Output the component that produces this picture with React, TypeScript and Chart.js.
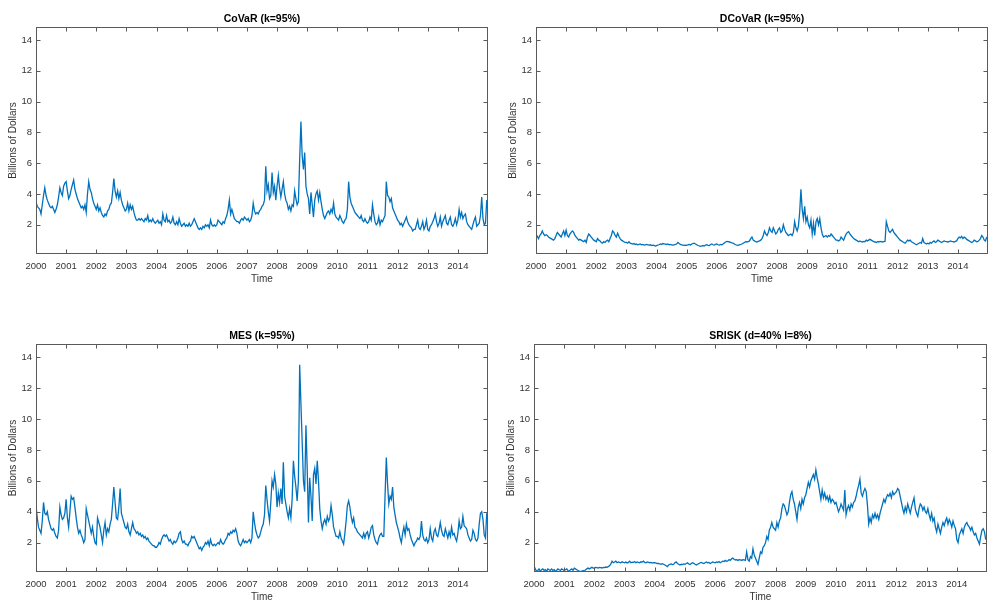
import React, { useEffect, useRef } from "react";
import { Chart, registerables } from "chart.js";

Chart.register(...registerables);

// ---------- data (semi-monthly readings, 24 per year, 2000–2014) ----------
const START_YEAR = 2000;
const POINTS_PER_YEAR = 24;

const xTickYears = [2000, 2001, 2002, 2003, 2004, 2005, 2006, 2007, 2008, 2009, 2010, 2011, 2012, 2013, 2014];
const yTickValues = [2, 4, 6, 8, 10, 12, 14];
const Y_MIN = 0.1;
const Y_MAX = 14.85;
const X_MIN = 2000;
const X_MAX = 2015;

const titles = ["CoVaR (k=95%)", "DCoVaR (k=95%)", "MES (k=95%)", "SRISK (d=40% l=8%)"];

const covar = [
  3.5, 3.2, 3.1, 3.0, 2.7, 3.3, 3.9, 4.4, 3.9, 3.6, 3.4, 3.2, 3.1, 3.2, 3.0, 2.8, 3.0, 3.3, 3.8, 4.4, 4.1, 3.9, 4.5, 4.7,
  4.8, 4.2, 3.7, 3.9, 4.3, 4.6, 4.9, 4.3, 4.0, 3.7, 3.5, 3.3, 3.1, 3.2, 3.0, 3.3, 2.8, 4.0, 4.8, 4.3, 4.1, 3.7, 3.4, 3.2,
  3.0, 3.3, 2.9, 3.1, 2.8, 2.6, 2.5, 2.7, 2.6, 2.9, 3.0, 3.3, 3.4, 4.1, 5.0, 4.2, 3.8, 4.2, 3.7, 4.1, 3.6, 3.3, 3.1, 2.9,
  3.0, 3.4, 2.9, 3.3, 3.0, 3.2, 2.8, 2.5, 2.3, 2.3, 2.4, 2.3, 2.4, 2.3, 2.2, 2.4, 2.3, 2.6, 2.2, 2.3, 2.2, 2.4, 2.2, 2.1,
  2.2, 2.3, 2.1, 2.2, 2.0, 2.7, 2.3, 2.2, 2.6, 2.2, 2.3, 2.1, 2.2, 2.5, 2.1, 2.0, 2.2, 2.0, 2.4, 2.1, 1.9, 2.0, 2.1, 1.9,
  2.0, 1.9, 2.1, 1.9, 2.0, 2.2, 2.4, 2.2, 2.0, 1.8, 1.7, 1.8, 1.7, 1.9, 1.8, 2.0, 1.9, 2.0, 1.8, 2.3, 2.0, 1.9, 2.0, 1.9,
  2.0, 2.3, 2.2, 2.1, 2.0, 2.2, 2.1, 2.4, 2.6, 3.0, 3.6, 2.7, 3.0, 2.7, 2.4, 2.3, 2.2, 2.2, 2.1, 2.3, 2.4, 2.3, 2.5, 2.4,
  2.3, 2.4, 2.2, 2.3, 2.6, 3.4, 2.9, 2.7, 2.8, 2.7, 2.9, 3.0, 3.2, 3.3, 3.6, 5.8, 4.2, 4.6, 3.7, 3.9, 5.4, 4.1, 4.5, 3.6,
  4.5, 5.2, 4.4, 3.8, 4.3, 4.8, 4.0, 3.6, 3.4, 3.0, 3.2, 2.9, 3.3, 3.2, 4.2, 3.7, 3.3, 3.5, 6.2, 8.7, 6.5, 5.6, 6.7, 4.5,
  4.0, 3.7, 2.7, 4.1, 3.3, 2.5, 3.6, 4.0, 4.2, 3.6, 4.1, 3.5, 3.0, 2.6, 2.4, 2.6, 2.8, 2.9, 2.7, 3.0, 2.8, 3.4, 2.7, 2.5,
  2.4, 2.3, 2.6, 2.4, 2.2, 2.1, 2.3, 2.4, 3.0, 4.8, 3.8, 3.4, 3.2, 3.0, 2.8, 2.7, 2.6, 2.5, 2.4, 2.6, 2.3, 2.2, 2.4, 2.2,
  2.1, 2.2, 2.5, 2.3, 3.3, 2.7, 2.2, 2.0, 2.1, 2.5, 2.0, 2.3, 2.2, 2.4, 2.6, 4.8, 3.9, 3.8, 3.5, 3.7, 3.1, 2.9, 2.7, 2.5,
  2.3, 2.2, 2.0, 2.1, 1.9, 2.1, 2.3, 2.5, 2.2, 2.0, 1.9, 1.8, 1.6, 1.7, 1.7, 2.0, 2.3, 1.8, 1.7, 1.9, 2.2, 1.7, 1.9, 2.3,
  1.7, 1.6, 1.9, 2.0, 2.2, 2.4, 2.7, 2.2, 1.9, 2.1, 2.5, 1.9, 2.2, 2.4, 2.6, 2.1, 2.0, 2.3, 2.5, 2.0, 1.9, 2.1, 2.4, 2.0,
  2.3, 3.0, 2.5, 2.8, 2.4, 2.6, 2.7, 2.2, 2.0, 1.9, 1.8, 1.7, 2.0, 2.3, 2.5, 1.9, 2.0, 2.1, 2.6, 3.8, 2.4, 2.0, 2.1, 3.6,
];

const dcovar = [
  1.4, 1.25, 1.1, 1.3, 1.4, 1.6, 1.4, 1.3, 1.35, 1.3, 1.2, 1.15, 1.1, 1.05, 1.0, 1.1, 1.3, 1.5, 1.4, 1.3, 1.2, 1.4, 1.6, 1.3,
  1.65, 1.3, 1.2, 1.4, 1.5, 1.6, 1.5, 1.3, 1.2, 1.1, 1.0, 1.05, 1.0, 0.95, 0.9, 1.0, 0.85, 1.2, 1.4, 1.3, 1.2, 1.1, 1.0, 0.95,
  0.9, 1.1, 1.0, 0.95, 0.85, 0.8, 0.9, 0.85, 0.95, 1.0, 0.9, 1.1, 1.3, 1.6, 1.5, 1.3, 1.2, 1.45, 1.25, 1.1, 1.0, 0.95, 0.9, 0.85,
  0.85, 0.8, 0.9, 0.8, 0.78, 0.75, 0.78, 0.72, 0.75, 0.7, 0.72, 0.75, 0.7, 0.72, 0.68, 0.7, 0.72, 0.7, 0.68, 0.7, 0.65, 0.68, 0.66, 0.62,
  0.65, 0.68, 0.7, 0.75, 0.72, 0.78, 0.76, 0.74, 0.72, 0.75, 0.7, 0.72, 0.7, 0.68, 0.7, 0.72, 0.75, 0.85, 0.78, 0.72, 0.7, 0.68, 0.66, 0.68,
  0.66, 0.7, 0.72, 0.68, 0.75, 0.78, 0.8, 0.75, 0.7, 0.65, 0.62, 0.6, 0.62, 0.65, 0.62, 0.68, 0.7, 0.66, 0.65, 0.72, 0.75, 0.7, 0.68, 0.72,
  0.75, 0.7, 0.68, 0.72, 0.7, 0.75, 0.82, 0.88, 0.92, 0.9, 0.88, 0.85, 0.82, 0.8, 0.75, 0.7, 0.68, 0.66, 0.7, 0.72, 0.75, 0.8, 0.85, 0.9,
  0.88, 0.9, 0.95, 1.1, 1.2, 1.0, 0.95, 0.9, 0.88, 0.92, 0.95, 1.0, 1.1, 1.3, 1.6, 1.4, 1.3, 1.5, 1.8, 1.6, 1.5, 1.8, 1.6, 1.4,
  1.5, 1.7, 1.8, 1.5, 1.6, 2.0, 1.7, 1.5, 1.4, 1.3, 1.35, 1.4, 1.3, 1.5, 2.2, 1.8, 1.6, 1.9, 2.8, 4.3, 3.0, 2.4, 3.2, 2.2,
  2.5, 2.0, 1.8, 2.3, 1.4, 2.1, 1.3, 2.2, 2.4, 2.0, 2.4, 1.8, 1.4, 1.2, 1.25, 1.3, 1.2, 1.3, 1.25, 1.4, 1.3, 1.2, 1.1, 1.0,
  1.0, 0.95, 1.0, 1.2, 1.1, 1.0, 1.2, 1.4, 1.5, 1.55, 1.4, 1.3, 1.2, 1.1, 1.05, 1.0, 0.95, 0.9, 0.95, 0.9, 0.88, 0.92, 0.9, 1.0,
  0.95, 1.0, 1.05, 1.0, 0.95, 0.9, 0.88, 0.85, 0.9, 0.88, 0.92, 0.9, 0.88, 0.9, 0.92, 2.2, 1.9, 1.6, 1.5, 1.6, 1.7, 1.5, 1.4, 1.3,
  1.2, 1.1, 1.0, 0.95, 0.9, 0.85, 0.8, 0.9, 1.0, 0.95, 1.0, 0.9, 0.85, 0.8, 0.75, 0.7, 0.75, 0.8, 0.85, 0.8, 1.1, 0.85, 0.8, 0.75,
  0.8, 0.75, 0.85, 0.8, 0.9, 0.95, 0.85, 0.9, 1.0, 0.95, 0.9, 0.85, 0.9, 0.95, 0.92, 0.9, 0.88, 0.9, 0.95, 0.92, 0.9, 0.88, 0.92, 0.95,
  1.1, 1.2, 1.15, 1.25, 1.1, 1.2, 1.15, 1.05, 1.0, 0.95, 0.9, 0.85, 0.9, 1.0, 0.95, 0.9, 0.92, 1.0, 1.1, 1.3, 1.2, 1.0, 0.95, 1.2,
];

const mes = [
  4.4, 3.6, 3.0, 2.8, 2.6, 3.4, 4.6, 3.9, 3.8, 4.0, 3.5, 3.2, 2.9, 2.8, 2.9, 2.6, 2.4, 2.3, 2.8, 4.3, 3.8, 3.5, 3.6, 3.9,
  4.8, 3.6, 3.0, 4.0, 5.0, 4.8, 4.9, 4.3, 3.6, 3.0, 2.6, 2.8, 2.5, 2.3, 2.0, 2.2, 4.2, 3.8, 3.4, 3.0, 2.6, 3.0, 2.4, 2.0,
  1.9, 3.6, 3.3, 3.0, 2.5, 2.0, 2.8, 3.3, 2.5, 2.9, 2.7, 3.2, 3.5, 4.5, 5.6, 4.6, 3.6, 3.5, 4.3, 5.5, 3.9, 3.6, 3.3, 3.0,
  2.9, 3.2, 2.7, 2.5, 2.9, 3.3, 2.9, 2.8, 2.6, 2.7, 2.5, 2.6, 2.4, 2.5, 2.3, 2.4, 2.2, 2.3, 2.1, 2.0, 1.9, 1.8, 1.8, 1.7,
  1.7, 1.8, 2.0, 1.9, 2.2, 2.4, 2.5, 2.4, 2.5, 2.3, 2.1, 2.2, 2.0, 1.9, 2.1, 2.0, 2.1, 2.3, 2.6, 2.7, 2.2, 2.0, 2.1, 1.9,
  1.9, 1.8, 2.0, 2.1, 2.4, 2.3, 2.4, 2.2, 2.0, 1.8, 1.6, 1.7, 1.5, 1.7, 1.8, 2.0, 1.9, 2.1, 1.8, 2.2, 1.9, 1.8, 1.9, 1.8,
  1.9, 2.0, 1.9, 2.2, 2.0, 1.9, 2.0, 2.2, 2.3, 2.6, 2.5, 2.7, 2.6, 2.8, 2.7, 2.9, 2.6, 2.1, 1.9, 1.8, 2.0, 2.2, 2.0, 2.1,
  2.0, 2.1, 2.2, 2.0, 2.3, 4.0, 3.3, 2.8, 2.5, 2.3, 2.4, 2.7, 3.0, 3.2, 3.8, 5.7, 4.8, 4.0, 3.4, 4.6, 6.0, 5.6, 6.4, 5.8,
  4.3, 5.2, 4.6, 5.5, 4.5, 7.2, 5.0, 4.5, 4.0, 3.6, 4.2, 3.6, 4.8, 7.3, 6.3, 5.6, 4.7, 6.0, 13.5, 11.0, 8.5, 6.0, 5.3, 9.6,
  6.8, 3.3, 6.2, 5.0, 3.4, 6.4, 6.8, 5.8, 7.3, 6.0, 4.2, 3.4, 2.9, 3.3, 3.5, 3.2, 3.7, 3.4, 3.6, 4.4, 3.8, 3.0, 2.7, 2.4,
  2.4, 2.3, 2.7, 2.3, 2.1, 1.9, 2.6, 3.4, 4.4, 4.7, 4.3, 3.7, 3.3, 3.6, 3.0, 2.9, 2.7, 2.6, 2.5, 2.4, 2.3, 2.6, 2.3, 2.6,
  2.7, 2.3, 2.6, 3.0, 3.1, 2.5, 2.2, 2.0, 1.9, 2.3, 2.5, 2.6, 2.4, 2.4, 5.0, 7.5, 5.8, 4.5, 5.0, 4.8, 5.6, 4.3, 3.8, 3.3,
  3.0, 2.7, 2.3, 2.0, 2.6, 3.0, 2.5, 3.2, 2.8, 2.9, 2.5, 2.2, 2.0, 1.8, 2.0, 2.1, 2.3, 2.2, 2.4, 3.4, 2.5, 2.2, 2.1, 2.3,
  2.0, 2.2, 2.9, 2.3, 2.1, 2.7, 2.9, 2.5, 2.4, 2.8, 3.3, 2.8, 2.5, 2.4, 2.9, 2.6, 2.3, 2.7, 2.4, 3.0, 2.5, 2.6, 2.3, 2.1,
  2.6, 3.4, 2.9, 3.0, 3.7, 3.1, 3.0, 2.9, 2.5, 2.3, 2.1, 2.2, 2.8, 2.6, 2.2, 2.1, 2.3, 3.2, 3.9, 4.0, 3.5, 2.5, 2.3, 3.9,
];

const srisk = [
  0.5, 0.3, 0.15, 0.2, 0.3, 0.15, 0.25, 0.3, 0.2, 0.25, 0.15, 0.3, 0.25, 0.2, 0.3, 0.2, 0.25, 0.15, 0.2, 0.3, 0.25, 0.2, 0.3, 0.25,
  0.2, 0.25, 0.3, 0.2, 0.15, 0.25, 0.3, 0.2, 0.35, 0.3, 0.25, 0.2, 0.15, 0.12, 0.15, 0.2, 0.15, 0.25, 0.3, 0.35, 0.3, 0.35, 0.4, 0.35,
  0.35, 0.4, 0.38, 0.35, 0.4, 0.38, 0.36, 0.4, 0.38, 0.42, 0.4, 0.45, 0.5, 0.6, 0.8, 0.7, 0.75, 0.8, 0.7, 0.75, 0.72, 0.7, 0.76, 0.72,
  0.7, 0.75, 0.68, 0.72, 0.8, 0.7, 0.74, 0.72, 0.78, 0.7, 0.75, 0.72, 0.7, 0.76, 0.74, 0.8, 0.72, 0.7, 0.75, 0.73, 0.7, 0.72, 0.68, 0.7,
  0.7, 0.68, 0.65, 0.66, 0.62, 0.6, 0.64, 0.6, 0.55, 0.5, 0.45, 0.55, 0.6, 0.62, 0.58, 0.6, 0.7, 0.75, 0.65, 0.6, 0.55, 0.6, 0.58, 0.62,
  0.6, 0.65, 0.7, 0.62, 0.58, 0.65, 0.7, 0.66, 0.6, 0.55, 0.6, 0.64, 0.7, 0.72, 0.68, 0.65, 0.7, 0.75, 0.7, 0.72, 0.65, 0.7, 0.75, 0.72,
  0.7, 0.75, 0.72, 0.78, 0.7, 0.75, 0.8, 0.78, 0.85, 0.8, 0.82, 0.9, 0.85, 0.95, 1.0, 0.92, 0.88, 0.9, 0.85, 0.9, 0.88, 0.85, 0.9, 0.88,
  0.85, 1.4, 0.9, 0.8, 1.1, 1.0, 1.6, 1.2, 1.0, 0.8, 0.6, 1.0, 1.4, 1.3, 1.7, 1.8, 2.0, 2.4, 2.2, 2.8, 3.0, 3.3, 3.0, 2.9,
  2.8, 3.3, 3.0, 3.4, 3.6, 4.2, 4.5, 4.4, 4.1, 3.8, 4.0, 4.6, 5.1, 5.3, 4.8, 4.5, 4.0, 3.5, 4.3, 4.6, 4.2, 4.8, 4.5, 4.9,
  5.1, 5.5, 5.9, 5.6, 6.0, 6.2, 6.4, 6.1, 6.7, 6.2, 5.8, 5.3, 4.8, 5.4, 4.9, 5.2, 4.8, 5.0, 4.7, 5.0, 4.6, 4.8, 4.7, 4.5,
  4.6, 4.3, 4.0, 4.2, 4.5, 4.3, 4.1, 5.4, 3.8, 4.2, 4.4, 4.1, 4.5, 4.3, 4.6, 4.7, 5.0, 5.4, 5.7, 6.1, 5.2, 5.0, 5.3, 5.5,
  5.3, 4.4, 3.2, 3.6, 3.3, 3.8, 3.6, 3.9, 3.6, 3.8, 3.5, 3.9, 4.2, 4.5, 4.8, 4.6, 4.9, 5.1, 5.0, 5.2, 4.9, 5.3, 5.1, 5.2,
  5.3, 5.5, 5.4, 5.0, 4.6, 4.2, 3.9, 4.3, 4.0, 4.5, 4.2, 3.9, 4.3, 4.6, 4.9, 4.2, 3.9, 3.7, 4.2, 4.5, 4.4, 4.1, 4.3, 4.0,
  3.9, 4.2, 3.8, 3.5, 3.9, 3.4, 3.6, 3.0, 2.7, 3.2, 2.9, 2.6, 3.0, 3.3, 3.1, 3.4, 3.6, 3.2, 3.5, 3.3, 3.0, 3.4, 3.1, 2.9,
  2.2, 2.0, 2.5, 2.7, 2.9, 2.6, 3.0, 3.2, 3.3, 3.1, 3.0, 2.8, 3.0, 2.7, 2.5, 2.6, 2.3, 2.1, 1.9, 2.4, 2.8, 2.9, 2.7, 2.2,
];

// ---------- styling ----------
const FONT = "'Liberation Sans', Arial, Helvetica, sans-serif";
const LINE_COLOR = "#0072BD";
const AXIS_COLOR = "#333333";
const BOX_COLOR = "#5a5a5a";

type Box = { left: number; top: number; width: number; height: number };

const boxes: Box[] = [
  { left: 0, top: 0, width: 500, height: 295 },
  { left: 500, top: 0, width: 500, height: 295 },
  { left: 0, top: 317, width: 500, height: 296 },
  { left: 498, top: 317, width: 501, height: 296 },
];

const seriesList = [covar, dcovar, mes, srisk];

const matlabBox = {
  id: "matlabBox",
  afterDraw(chart: any) {
    const { ctx, chartArea: a, scales } = chart;
    const L = Math.round(a.left) + 0.5;
    const R = Math.round(a.right) - 0.5;
    const T = Math.round(a.top) + 0.5;
    const B = Math.round(a.bottom) - 0.5;
    ctx.save();
    ctx.strokeStyle = BOX_COLOR;
    ctx.lineWidth = 1;
    ctx.strokeRect(L, T, R - L, B - T);
    const tl = 4;
    ctx.beginPath();
    scales.x.ticks.forEach((t: any) => {
      const px = Math.round(scales.x.getPixelForValue(t.value)) + 0.5;
      ctx.moveTo(px, B);
      ctx.lineTo(px, B - tl);
      ctx.moveTo(px, T);
      ctx.lineTo(px, T + tl);
    });
    scales.y.ticks.forEach((t: any) => {
      const py = Math.round(scales.y.getPixelForValue(t.value)) + 0.5;
      ctx.moveTo(L, py);
      ctx.lineTo(L + tl, py);
      ctx.moveTo(R, py);
      ctx.lineTo(R - tl, py);
    });
    ctx.stroke();
    ctx.restore();
  },
};

function Panel({ title, values, box }: { title: string; values: number[]; box: Box }) {
  const ref = useRef<HTMLCanvasElement | null>(null);

  useEffect(() => {
    if (!ref.current) return;
    const points = values.map((v, i) => ({ x: START_YEAR + i / POINTS_PER_YEAR, y: v }));
    const chart = new Chart(ref.current, {
      type: "line",
      data: {
        datasets: [
          {
            data: points,
            borderColor: LINE_COLOR,
            borderWidth: 1.3,
            pointRadius: 0,
            tension: 0,
            fill: false,
          },
        ],
      },
      options: {
        animation: false,
        responsive: false,
        maintainAspectRatio: false,
        events: [],
        layout: { padding: { left: 0, right: 12, top: 0, bottom: 0 } },
        plugins: {
          legend: { display: false },
          tooltip: { enabled: false },
          title: {
            display: true,
            text: title,
            fullSize: false,
            color: "#000000",
            font: { family: FONT, size: 10.5, weight: "bold", lineHeight: 1.2 },
            padding: { top: 12.7, bottom: 1.7 },
          },
        },
        scales: {
          x: {
            type: "linear",
            min: X_MIN,
            max: X_MAX,
            grid: { display: false, drawTicks: false },
            border: { display: false },
            afterBuildTicks: (s: any) => {
              s.ticks = xTickYears.map((v) => ({ value: v }));
            },
            afterFit: (s: any) => {
              s.height = 41;
            },
            ticks: {
              autoSkip: false,
              maxRotation: 0,
              padding: 7,
              color: AXIS_COLOR,
              font: { family: FONT, size: 9.5 },
              callback: (v: any) => String(v),
            },
            title: {
              display: true,
              text: "Time",
              color: AXIS_COLOR,
              font: { family: FONT, size: 10, lineHeight: 1.2 },
              padding: { top: 0, bottom: 10 },
            },
          },
          y: {
            type: "linear",
            min: Y_MIN,
            max: Y_MAX,
            grid: { display: false, drawTicks: false },
            border: { display: false },
            afterBuildTicks: (s: any) => {
              s.ticks = yTickValues.map((v) => ({ value: v }));
            },
            afterFit: (s: any) => {
              s.width = 36;
            },
            ticks: {
              padding: 4,
              color: AXIS_COLOR,
              font: { family: FONT, size: 9.5 },
              callback: (v: any) => String(v),
            },
            title: {
              display: true,
              text: "Billions of Dollars",
              color: AXIS_COLOR,
              font: { family: FONT, size: 10, lineHeight: 1.2 },
              padding: { top: 7, bottom: 0 },
            },
          },
        },
      },
      plugins: [matlabBox],
    });
    return () => chart.destroy();
  }, [title, values]);

  return (
    <div style={{ position: "absolute", left: box.left, top: box.top, width: box.width, height: box.height }}>
      <canvas ref={ref} width={box.width} height={box.height} style={{ width: box.width, height: box.height, display: "block" }} />
    </div>
  );
}

export default function App() {
  return (
    <div style={{ position: "fixed", left: 0, top: 0, width: 1000, height: 613, background: "#ffffff", overflow: "hidden" }}>
      {titles.map((t, i) => (
        <Panel key={t} title={t} values={seriesList[i]} box={boxes[i]} />
      ))}
    </div>
  );
}
